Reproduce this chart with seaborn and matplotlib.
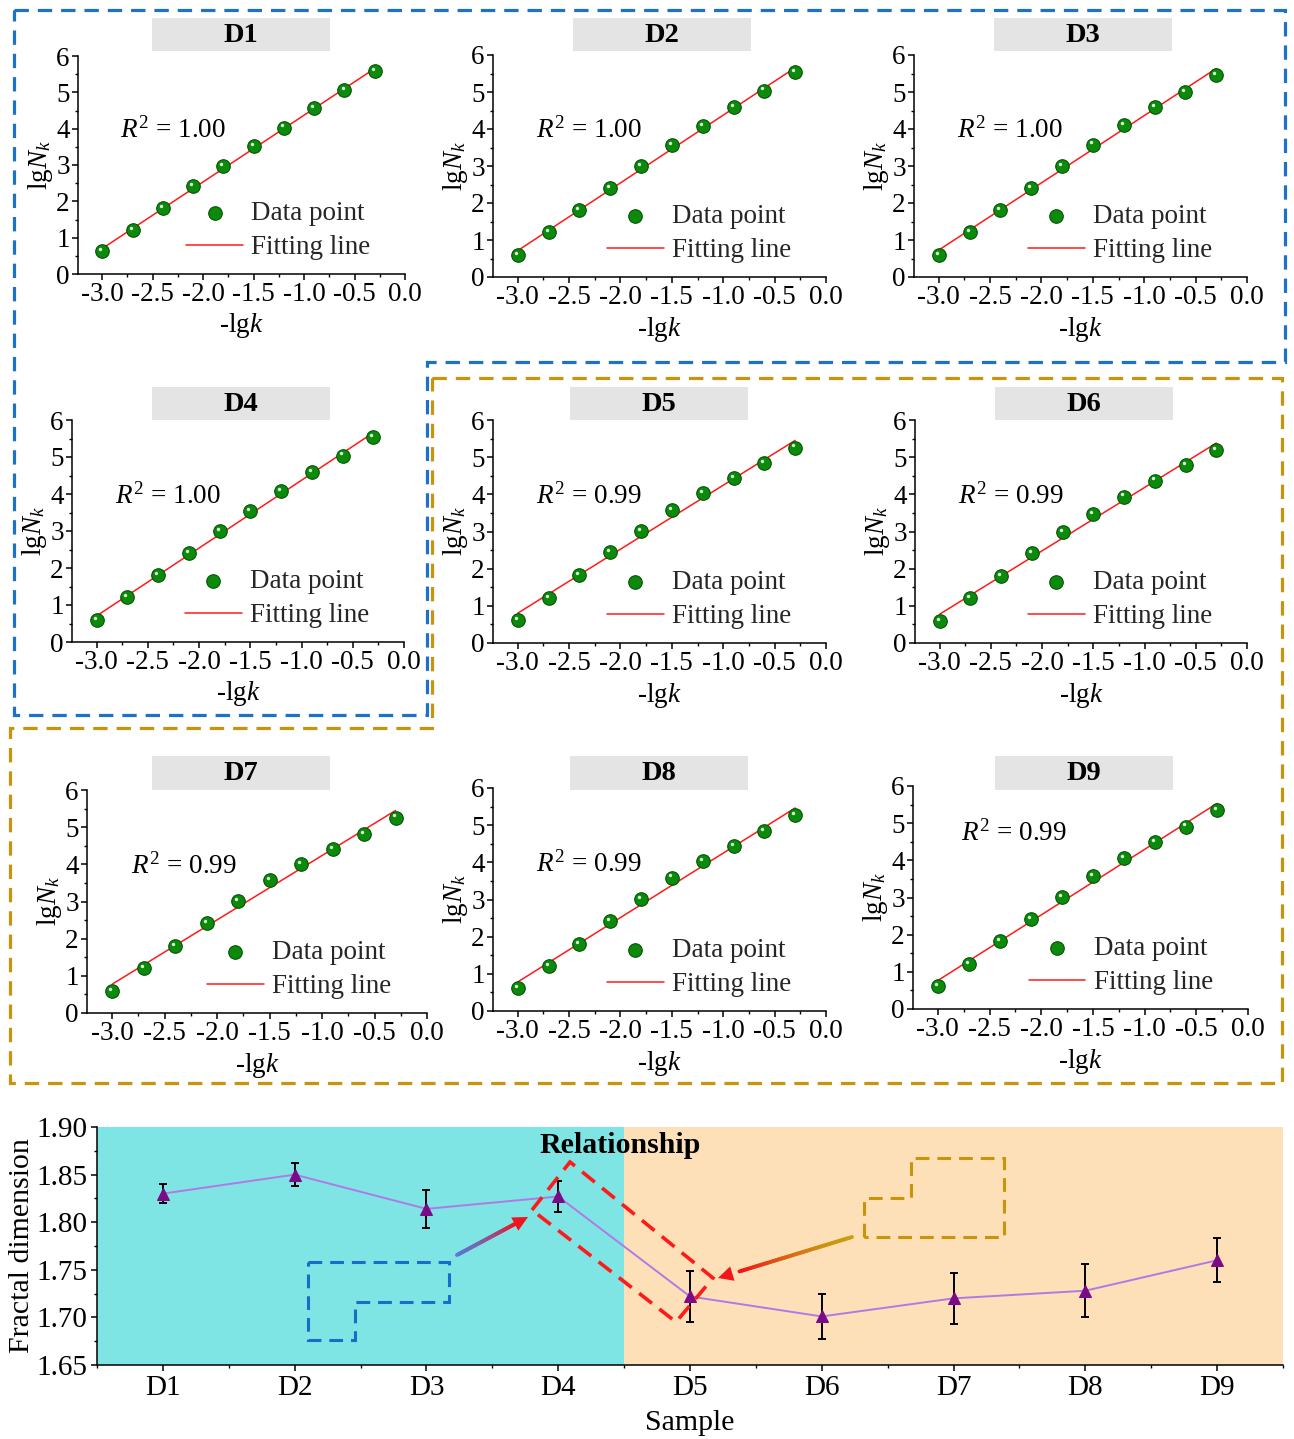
import numpy as np
import pandas as pd
import matplotlib
matplotlib.use('Agg')
import matplotlib.pyplot as plt
import seaborn as sns
from matplotlib.patches import Rectangle, Polygon, FancyArrowPatch
from matplotlib.collections import LineCollection
from matplotlib.ticker import MultipleLocator, FormatStrFormatter
import matplotlib.transforms as mtransforms
from matplotlib.colors import to_rgb

# ---------------- data ----------------
neg_lg_k = [-3.0, -2.7, -2.4, -2.1, -1.8, -1.5, -1.2, -0.9, -0.6, -0.3]
lgN_D1 = [0.62, 1.22, 1.81, 2.41, 2.96, 3.51, 4.03, 4.56, 5.07, 5.59]
lgN_D2 = [0.60, 1.21, 1.81, 2.41, 3.00, 3.56, 4.09, 4.59, 5.04, 5.53]
lgN_D3 = [0.60, 1.21, 1.81, 2.41, 3.01, 3.58, 4.11, 4.59, 5.01, 5.47]
lgN_D4 = [0.59, 1.21, 1.81, 2.40, 3.00, 3.55, 4.08, 4.59, 5.04, 5.53]
lgN_D5 = [0.63, 1.22, 1.83, 2.44, 3.02, 3.57, 4.03, 4.43, 4.83, 5.26]
lgN_D6 = [0.59, 1.21, 1.80, 2.41, 2.98, 3.48, 3.94, 4.37, 4.78, 5.20]
lgN_D7 = [0.60, 1.20, 1.80, 2.42, 3.02, 3.57, 4.02, 4.42, 4.81, 5.26]
lgN_D8 = [0.61, 1.21, 1.81, 2.41, 3.01, 3.59, 4.04, 4.43, 4.83, 5.27]
lgN_D9 = [0.61, 1.22, 1.82, 2.42, 3.02, 3.58, 4.05, 4.50, 4.91, 5.35]
r2_text = ['1.00', '1.00', '1.00', '1.00', '0.99', '0.99', '0.99', '0.99', '0.99']
samples = ['D1', 'D2', 'D3', 'D4', 'D5', 'D6', 'D7', 'D8', 'D9']
fractal_dim = [1.830, 1.850, 1.814, 1.827, 1.722, 1.701, 1.720, 1.728, 1.760]
fractal_err = [0.010, 0.012, 0.020, 0.016, 0.027, 0.024, 0.027, 0.028, 0.023]
lgN_all = [lgN_D1, lgN_D2, lgN_D3, lgN_D4, lgN_D5, lgN_D6, lgN_D7, lgN_D8, lgN_D9]

# ---------------- layout (pixels) ----------------
W, H, DPI = 1294, 1439, 100
panel_px = {  # left, top, right, bottom
    'D1': (78, 56, 405, 274), 'D2': (493, 55, 826, 277), 'D3': (914, 55, 1247, 277),
    'D4': (72, 420, 404, 642), 'D5': (493, 420, 826, 643), 'D6': (915, 420, 1247, 643),
    'D7': (87, 790, 427, 1013), 'D8': (493, 788, 826, 1011), 'D9': (913, 786, 1248, 1009),
}
title_px = {  # x0, y0, x1, y1
    'D1': (152, 18, 330, 51), 'D2': (573, 18, 751, 51), 'D3': (994, 18, 1172, 51),
    'D4': (152, 387, 330, 420), 'D5': (570, 387, 748, 420), 'D6': (995, 387, 1173, 420),
    'D7': (152, 756, 330, 790), 'D8': (570, 756, 748, 790), 'D9': (995, 756, 1173, 790),
}
r2_pos = {s: (-2.82, 3.95) for s in samples}
r2_pos['D9'] = (-2.78, 4.72)


def px_rect(l, t, r, b):
    return [l / W, 1 - b / H, (r - l) / W, (b - t) / H]


def fpt(x, y):
    return (x / W, 1 - y / H)


sns.set_theme(style='ticks')
plt.rcParams['font.family'] = ['Liberation Serif', 'DejaVu Serif']
plt.rcParams['mathtext.fontset'] = 'custom'
plt.rcParams['mathtext.rm'] = 'Liberation Serif'
plt.rcParams['mathtext.it'] = 'Liberation Serif:italic'
plt.rcParams['mathtext.bf'] = 'Liberation Serif:bold'
plt.rcParams['axes.unicode_minus'] = False

fig = plt.figure(figsize=(W / DPI, H / DPI), dpi=DPI)
fig.patch.set_facecolor('white')

TICK_FS = 19.5
LEG_FS = 19.5
GREEN = '#0b8a0b'
GREEN_EDGE = '#055405'

for name, ys, r2 in zip(samples, lgN_all, r2_text):
    ax = fig.add_axes(px_rect(*panel_px[name]))
    df = pd.DataFrame({'x': neg_lg_k, 'y': ys})
    sns.regplot(data=df, x='x', y='y', ax=ax, scatter=False, ci=None, truncate=True,
                label='Fitting line', line_kws=dict(color='#ff1a1a', lw=1.1, zorder=2))
    sns.scatterplot(data=df, x='x', y='y', ax=ax, s=95, color=GREEN, edgecolor=GREEN_EDGE,
                    linewidth=0.8, zorder=3, label='Data point', legend=False)
    hl = mtransforms.offset_copy(ax.transData, fig=fig, x=-1.4, y=1.5, units='points')
    ax.scatter(df['x'], df['y'], s=6, color='#d8f5d8', lw=0, zorder=4, transform=hl)

    ax.set_xlim(-3.24, 0.0)
    ax.set_ylim(0, 6)
    ax.xaxis.set_major_locator(MultipleLocator(0.5))
    ax.xaxis.set_minor_locator(MultipleLocator(0.25))
    ax.xaxis.set_major_formatter(FormatStrFormatter('%.1f'))
    ax.yaxis.set_major_locator(MultipleLocator(1))
    ax.yaxis.set_minor_locator(MultipleLocator(0.5))
    ax.yaxis.set_major_formatter(FormatStrFormatter('%d'))
    for s in ['top', 'right']:
        ax.spines[s].set_visible(False)
    for s in ['left', 'bottom']:
        ax.spines[s].set_linewidth(1.1)
        ax.spines[s].set_color('black')
    ax.tick_params(which='major', direction='out', length=4, width=1.1, labelsize=TICK_FS,
                   pad=2, colors='black')
    ax.tick_params(which='minor', direction='out', length=2.5, width=1.0, colors='black')
    ax.set_xlabel(r'-lg$k$', fontsize=TICK_FS, labelpad=3, color='black')
    ax.set_ylabel(r'lg$N_k$', fontsize=TICK_FS, labelpad=1, color='black')
    ax.patch.set_alpha(0)

    rx, ry = r2_pos[name]
    ax.text(rx, ry, r'$R^2$ = ' + r2, fontsize=TICK_FS, ha='left', va='center', color='black')

    h, l = ax.get_legend_handles_labels()
    hd = dict(zip(l, h))
    ax.legend([hd['Data point'], hd['Fitting line']], ['Data point', 'Fitting line'],
              loc='lower right', bbox_to_anchor=(0.895, 0.062), frameon=False, fontsize=LEG_FS,
              handlelength=2.1, handletextpad=0.3, labelspacing=0.35,
              borderpad=0, borderaxespad=0)

    x0, y0, x1, y1 = title_px[name]
    fx0, fy1 = fpt(x0, y1)
    rect = Rectangle((fx0, fy1), (x1 - x0) / W, (y1 - y0) / H, transform=fig.transFigure,
                     facecolor='#e4e4e4', edgecolor='none', zorder=1)
    fig.add_artist(rect)
    cx, cy = fpt((x0 + x1) / 2, (y0 + y1) / 2 + 1)
    fig.text(cx, cy, name, fontsize=20.5, fontweight='bold', ha='center', va='center',
             color='black')

# ---------------- dashed group outlines ----------------
blue_outline = [(14, 10), (1285, 10), (1285, 362), (427, 362), (427, 715), (14, 715)]
gold_outline = [(432, 378), (1282, 378), (1282, 1083), (10, 1083), (10, 728), (432, 728)]
BLUE = '#1b72c8'
GOLD = '#c8940c'
for pts, col in [(blue_outline, BLUE), (gold_outline, GOLD)]:
    poly = Polygon([fpt(*p) for p in pts], closed=True, fill=False, edgecolor=col,
                   lw=2.3, linestyle=(0, (4.5, 2.8)), transform=fig.transFigure, zorder=5)
    fig.add_artist(poly)

# ---------------- bottom chart ----------------
axb = fig.add_axes(px_rect(97, 1127, 1283, 1365))
pos = np.arange(len(samples))
axb.axvspan(-0.5, 3.5, color='#7fe4e4', zorder=0, lw=0)
axb.axvspan(3.5, 8.5, color='#fde0b7', zorder=0, lw=0)
df_b = pd.DataFrame({'pos': pos, 'fd': fractal_dim})
axb.errorbar(pos, fractal_dim, yerr=fractal_err, fmt='none', ecolor='black',
             elinewidth=1.4, capsize=3, capthick=1.4, zorder=2)
sns.lineplot(data=df_b, x='pos', y='fd', ax=axb, color='#b07ae6', lw=1.4, marker='^',
             markersize=8, markerfacecolor='#7a0a86', markeredgecolor='#7a0a86', zorder=3)
axb.set_xlim(-0.5, 8.5)
axb.set_ylim(1.65, 1.90)
axb.set_xticks(pos)
axb.set_xticklabels(samples)
axb.xaxis.set_minor_locator(MultipleLocator(0.5))
axb.yaxis.set_major_locator(MultipleLocator(0.05))
axb.yaxis.set_minor_locator(MultipleLocator(0.025))
axb.yaxis.set_major_formatter(FormatStrFormatter('%.2f'))
for s in ['top', 'right']:
    axb.spines[s].set_visible(False)
for s in ['left', 'bottom']:
    axb.spines[s].set_linewidth(1.1)
    axb.spines[s].set_color('black')
axb.tick_params(which='major', direction='out', length=4, width=1.1, labelsize=21,
                pad=3, colors='black')
axb.tick_params(which='minor', direction='out', length=2.5, width=1.0, colors='black')
axb.set_xlabel('Sample', fontsize=21.5, labelpad=7, color='black')
axb.set_ylabel('Fractal dimension', fontsize=21.5, labelpad=1, color='black')
axb.text(3.47, 1.881, 'Relationship', fontsize=21.5, fontweight='bold', ha='center',
         va='center', color='black', zorder=6)

# decorations in the bottom chart
blue_L = [(308, 1262), (449, 1262), (449, 1302), (355, 1302), (355, 1340), (308, 1340)]
red_box = [(532, 1210), (570, 1162), (713, 1278), (676, 1322)]
gold_step = [(864, 1237), (864, 1198), (911, 1198), (911, 1158), (1004, 1158), (1004, 1237)]
for pts, col, lw in [(blue_L, '#1a6cc6', 2.2), (red_box, '#ff1a1a', 2.6), (gold_step, GOLD, 2.2)]:
    poly = Polygon([fpt(*p) for p in pts], closed=True, fill=False, edgecolor=col, lw=lw,
                   linestyle=(0, (4.5, 2.6)), transform=fig.transFigure, zorder=6)
    fig.add_artist(poly)


def gradient_arrow(p0, p1, c0, c1, lw=2.8):
    (x0, y0), (x1, y1) = fpt(*p0), fpt(*p1)
    n = 40
    t = np.linspace(0, 0.84, n + 1)
    xs = x0 + (x1 - x0) * t
    ys = y0 + (y1 - y0) * t
    segs = [[(xs[i], ys[i]), (xs[i + 1], ys[i + 1])] for i in range(n)]
    a, b = np.array(to_rgb(c0)), np.array(to_rgb(c1))
    cols = [tuple(a + (b - a) * (i / (n - 1)) ** 1.6) for i in range(n)]
    lc = LineCollection(segs, colors=cols, linewidths=lw, transform=fig.transFigure,
                        zorder=7, capstyle='round', antialiaseds=True)
    fig.add_artist(lc)
    tail = (x0 + (x1 - x0) * 0.72, y0 + (y1 - y0) * 0.72)
    arr = FancyArrowPatch(tail, (x1, y1), arrowstyle='-|>', mutation_scale=27,
                          color=c1, lw=0, shrinkA=0, shrinkB=0,
                          transform=fig.transFigure, zorder=8)
    fig.add_artist(arr)


gradient_arrow((457, 1255), (528, 1217), '#5a78d0', '#f0141e')
gradient_arrow((852, 1237), (718, 1278), '#c8a010', '#f5141a')

fig.savefig('out.png', dpi=DPI, facecolor='white')
